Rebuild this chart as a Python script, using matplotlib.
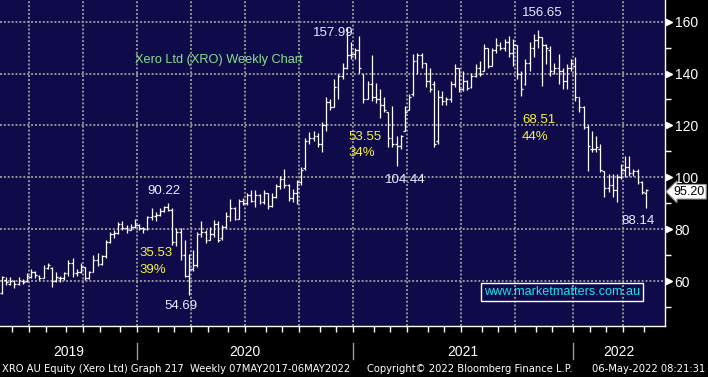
import numpy as np
import pandas as pd
import matplotlib
matplotlib.use("Agg")
import matplotlib.pyplot as plt
import matplotlib.transforms as mtransforms

# weekly bars, XRO AU
dates = pd.date_range("2019-05-17", "2022-05-06", freq="W-FRI")

opens = [55.5, 60.5, 59, 60, 59, 60, 60, 61.5, 63.5, 62, 61, 65, 65, 60, 61, 61, 63, 67, 63, 63.5,
         65.5, 61, 63.5, 68, 66.5, 69.5, 75, 78, 78.5, 82, 80.5, 79.5, 81, 81.5, 80.5, 80, 84.5, 85, 85.5, 87,
         88.5, 87.5, 75, 79, 70, 62, 64.5, 66, 78, 79, 76, 78, 82, 76.5, 81, 85, 88, 84, 91, 90,
         93, 91, 93, 90.5, 94, 89, 92.5, 96.5, 99.5, 97, 92, 94, 98, 103.5, 114, 115, 116, 113, 120, 129,
         127, 135, 139, 142, 147, 147.5, 149, 140, 130, 136, 131, 130, 128, 125, 115, 113, 112, 118, 126, 132,
         145, 147, 144, 137, 136, 114, 131, 129.5, 130, 136, 142, 134, 137, 135, 139, 142, 141, 150, 143, 149,
         151, 150, 152, 148, 151, 140, 136, 144, 150, 153, 154, 151, 149, 141, 142, 141, 137, 142, 143, 131,
         127, 119.5, 111, 111, 111, 102.6, 96, 97, 95, 100, 103, 104, 101.5, 102.5, 98, 94]
highs = [62, 61.5, 61.7, 60.4, 61.5, 60.8, 63, 64.5, 64, 62.5, 66, 66.8, 65.5, 63.5, 62, 63.5, 68, 69, 64.5, 66.8,
         65.5, 64, 70, 70.7, 70, 75.8, 79, 79.7, 82.8, 83, 81.6, 82, 84.1, 82, 81, 85, 88, 86.5, 88, 89,
         90.22, 88, 80.3, 80.3, 76, 70.5, 72, 79, 83, 79.5, 81, 83.5, 83, 81.6, 86.7, 91.8, 88.5, 91.8, 92, 93.8,
         95, 95, 93.6, 95, 94, 94, 97.4, 100.6, 103.2, 97.5, 95.5, 99, 104, 115, 117.4, 118, 117, 121.3, 131, 130,
         138, 140, 144, 157.99, 152, 150, 154.5, 140, 137, 147, 136.5, 134, 131, 125, 127.6, 116, 116.5, 127.6, 132, 147.4,
         148, 148, 144, 142.3, 137.2, 133.5, 133.3, 131, 137.2, 143.6, 142, 141, 137.5, 140.4, 143.6, 145, 151.3, 150, 150, 153.8,
         152, 153.2, 154.5, 153.2, 151, 141, 145.5, 152, 155.1, 156.65, 154, 151.5, 150.6, 144, 147.4, 142.3, 143.6, 145.5, 146.2, 131,
         127.5, 120, 118, 116, 112.8, 102.6, 101.3, 101.3, 101.3, 105, 108.3, 108.3, 103.2, 103.2, 98.7, 95.5]
lows = [55, 58.5, 58.5, 57.3, 58.5, 58.8, 59.5, 61, 61, 60.4, 61, 64.5, 57.5, 59.5, 59.5, 60.5, 62, 61.5, 62, 63,
        60.4, 60.8, 63.5, 65.6, 66, 69, 74.5, 76.5, 78, 79.7, 78.4, 79.5, 80.5, 79.8, 78.4, 79.5, 83.5, 83, 85, 86.5,
        87, 74, 73.5, 68, 61.5, 54.69, 64, 65.5, 77, 74.5, 76, 77, 75, 76, 80.5, 83, 83.5, 84, 89.3, 89.3,
        90.5, 88.5, 89.7, 89.7, 87.8, 88.5, 92, 95.5, 96, 91, 90.4, 89.7, 97, 103, 113, 114, 111.6, 109.7, 118, 125.8,
        127, 130, 138, 141.7, 145.8, 145.8, 140.4, 128.8, 130, 129.5, 128.8, 123, 125, 111.5, 111.5, 104.44, 111, 118, 126, 131.5,
        140, 142, 135, 133, 111.5, 113, 128, 128, 129, 135, 132.7, 133.3, 133.5, 134.6, 138.5, 139, 141, 142.3, 143, 148,
        149, 148.7, 146.2, 143, 137.8, 131.4, 135.5, 141, 146.2, 150, 135.3, 143.6, 139.1, 140, 136, 134, 134, 141, 129.5, 125,
        118.6, 102.6, 109.6, 109.6, 101.9, 92.3, 94.2, 92.3, 90.4, 99.4, 100, 100.6, 100.6, 97.4, 93.6, 88.14]
closes = [61.5, 59.5, 60, 59, 60.5, 59.5, 62, 63.5, 62.5, 61, 65, 66, 60, 61.5, 61, 63, 67, 63, 63.5, 65.5,
          61, 63.5, 68, 66.5, 69.5, 75, 78, 78.5, 82, 80.5, 79.5, 81, 81.5, 80.5, 80, 84.5, 85, 85.5, 87, 88.5,
          87.5, 75, 79, 70, 62, 64.5, 66, 78, 79, 76, 78, 82, 76, 81, 85, 88, 84, 91, 90, 93,
          91, 93, 90.5, 94, 89, 92.5, 96.5, 99.5, 97, 92, 94, 98, 103, 114, 115, 116, 113, 120, 129, 127,
          135, 139, 142, 147, 147.5, 149, 142, 130, 136, 131, 130, 128, 126, 115, 113, 112, 116, 125, 131, 145,
          147, 144, 137, 134, 113, 131, 129.5, 130, 136, 142, 134, 137, 134.5, 139, 142, 140, 150, 143, 149, 151,
          150, 152, 148, 151, 140, 134, 144, 150, 153, 154, 151, 150, 141, 142, 141, 137, 142, 144, 131, 127,
          119.5, 112, 111, 111.5, 103, 96, 97, 95, 100, 103, 104, 101.5, 102.5, 98, 94.5, 95.2]

# swing points marked on the chart: (peak bar, trough bar)
swings = [(40, 45), (83, 95), (129, 155)]

y_major = [60, 80, 100, 120, 140, 160]
y_minor = [50, 70, 90, 110, 130, 150]

NAVY = "#0f0b4a"
GRID = "#939393"
YELLOW = "#f5f53a"
LABEL = "#e4ecff"

x = np.arange(len(dates))
o, h, l, c = (np.array(v, dtype=float) for v in (opens, highs, lows, closes))


def period_bounds(per):
    p = dates.to_period(per)
    return [i - 0.5 for i in range(1, len(p)) if p[i] != p[i - 1]]


q_bounds = period_bounds("Q")
m_bounds = period_bounds("M")
y_bounds = period_bounds("Y")

fig = plt.figure(figsize=(7.08, 3.77), dpi=100, facecolor="black")
ax = fig.add_axes([0, 51 / 377, 665 / 708, 326 / 377], facecolor=NAVY)
xl = (-0.48, 159.6)
ax.set_xlim(*xl)
ax.set_ylim(42.65, 168.37)

dots = (0, (1, 1))
for b in q_bounds:
    ax.axvline(b, color=GRID, lw=1.4, ls=dots, zorder=1)
for v in y_major:
    ax.axhline(v, color=GRID, lw=1.4, ls=dots, zorder=1)

# OHLC bars
ax.vlines(x, l, h, color="white", lw=0.9, zorder=3)
ax.hlines(o, x - 0.45, x, color="white", lw=0.9, zorder=3)
ax.hlines(c, x, x + 0.45, color="white", lw=0.9, zorder=3)

for s in ("top", "left"):
    ax.spines[s].set_visible(False)
for s in ("bottom", "right"):
    ax.spines[s].set_color("white")
    ax.spines[s].set_linewidth(1)

ax.set_xticks(m_bounds)
ax.tick_params(axis="x", length=4, width=1, color="white", labelbottom=False)
ax.yaxis.tick_right()
ax.set_yticks(y_major)
ax.set_yticks(y_minor, minor=True)
ax.tick_params(axis="y", which="major", length=0, pad=7, labelcolor="white", labelsize=10)
ax.tick_params(axis="y", which="minor", length=4, width=1, color="white")
for t in ax.get_yticklabels():
    t.set_fontfamily("Liberation Sans")

ty = mtransforms.blended_transform_factory(ax.transAxes, ax.transData)
ax.plot([1.006] * len(y_major), y_major, ls="none", marker=">", ms=4.5, color="white",
        transform=ty, clip_on=False, zorder=5)

# last price tag, nudged a couple of pixels down
tag_tr = ty + mtransforms.ScaledTranslation(0, -2 / 100, fig.dpi_scale_trans)
ax.text(1.013, c[-1], f"{c[-1]:.2f}", transform=tag_tr, ha="left", va="center", fontsize=9,
        family="Liberation Sans", color="black", zorder=6,
        bbox=dict(boxstyle="larrow,pad=0.1", fc="white", ec="#9a9a9a", lw=0.8))

# year labels and separators under the axis
tx = mtransforms.blended_transform_factory(ax.transData, ax.transAxes)
edges = [xl[0]] + y_bounds + [xl[1]]
for yr, a, b in zip(sorted(set(dates.year)), edges[:-1], edges[1:]):
    ax.text((a + b) / 2, -0.08, str(yr), transform=tx, ha="center", va="center",
            fontsize=10, family="Liberation Sans", color="white")
for b in y_bounds:
    ax.plot([b, b], [-0.052, -0.1], transform=tx, color="#9a9a9a", lw=1, clip_on=False)

# annotations
txt = dict(family="Liberation Sans", fontsize=9.5, va="center", zorder=6)
ax.text(32, 145.2, "Xero Ltd (XRO) Weekly Chart", color="#86e08e", ha="left",
        family="Liberation Sans", fontsize=9.2, va="center", zorder=6)

# (peak label x,y), (trough label x,y), (move label x, y1, y2)
spots = [((39, 94.7), (43.1, 50.4), (33.2, 70.8, 64.3)),
         ((79.7, 155.6), (97, 98.9), (83.3, 115.5, 109.3)),
         ((130, 163.4), (153.1, 83.1), (125.2, 122.1, 115.6))]
for (ih, il), (pk, tr, mv) in zip(swings, spots):
    top, bot = h[ih], l[il]
    ax.text(pk[0], pk[1], f"{top:.2f}", color=LABEL, ha="center", **txt)
    ax.text(tr[0], tr[1], f"{bot:.2f}", color=LABEL, ha="center", **txt)
    ax.text(mv[0], mv[1], f"{top - bot:.2f}", color=YELLOW, ha="left", **txt)
    ax.text(mv[0], mv[2], f"{(top - bot) / top * 100:.0f}%", color=YELLOW, ha="left", **txt)

ax.text(134.8, 55.8, "www.marketmatters.com.au", color="#19e3f0", ha="center",
        family="Liberation Sans", fontsize=9.1, va="center", zorder=6,
        bbox=dict(boxstyle="square,pad=0.22", fc="none", ec="white", lw=1))

# footer
foot = dict(family="DejaVu Sans", fontsize=7.2, color="white", va="center")
fig.text(2 / 708, 8 / 377, "XRO AU Equity (Xero Ltd) Graph 217  Weekly 07MAY2017-06MAY2022", ha="left", **foot)
fig.text(367 / 708, 8 / 377, "Copyright\u00a9 2022 Bloomberg Finance L.P.", ha="left", **foot)
fig.text(705 / 708, 8 / 377, "06-May-2022 08:21:31", ha="right", **foot)

fig.savefig("out.png", dpi=100, facecolor="black")
